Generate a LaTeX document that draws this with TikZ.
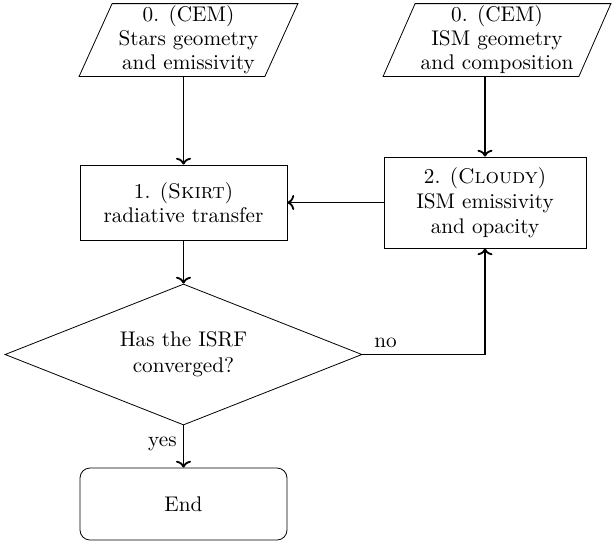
\documentclass[tikz,border=0pt]{standalone}
\usetikzlibrary{shapes.geometric,calc,arrows.meta}
\begin{document}
\begin{tikzpicture}[x=0.5pt,y=-0.5pt,
  font=\fontsize{10.6}{12}\selectfont,
  txt/.style={align=center,inner sep=0pt},
  procbox/.style={draw,line width=0.4pt,align=center,inner sep=0pt},
  endbox/.style={draw,rounded corners=5pt,align=center,inner sep=0pt,line width=0.4pt},
  conn/.style={line width=0.9pt,-{To[length=3.4pt,width=7.5pt]}},
  lab/.style={inner sep=0pt}]
\useasboundingbox (0,0) rectangle (616,543);
% parallelograms
\node[txt,minimum width=92.5pt,minimum height=36pt] (p1) at (188.5,40) {0. (CEM)\\Stars geometry\\and emissivity};
\draw[line width=0.4pt] ([xshift=8.25pt]p1.north west) -- ([xshift=8.25pt]p1.north east) -- ([xshift=-8.25pt]p1.south east) -- ([xshift=-8.25pt]p1.south west) -- cycle;
\node[txt,minimum width=97.5pt,minimum height=36pt] (p2) at (497,40) {0. (CEM)\\ISM geometry\\and composition};
\draw[line width=0.4pt] ([xshift=8pt]p2.north west) -- ([xshift=8pt]p2.north east) -- ([xshift=-8pt]p2.south east) -- ([xshift=-8pt]p2.south west) -- cycle;
% process boxes
\node[procbox,minimum width=103.5pt,minimum height=37.5pt] (b1) at (183.5,202.5) {1. (\textsc{Skirt})\\radiative transfer};
\node[procbox,minimum width=101pt,minimum height=45.5pt,font=\fontsize{10.6}{12.5}\selectfont] (b2) at (485,202.5) {2. (\textsc{Cloudy})\\ISM emissivity\\and opacity};
% decision
\node[draw,diamond,line width=0.4pt,inner sep=0pt,minimum width=178.5pt,minimum height=70.5pt] (d) at (183.5,354.5) {};
\node[txt,font=\fontsize{10.6}{13}\selectfont] (dt) at (d.center) {Has the ISRF\\converged?};
% end
\node[endbox,minimum width=103.5pt,minimum height=36pt] (e) at (183.5,504) {End};
% connectors
\draw[conn] (p1.south -| b1.north) -- (b1.north);
\draw[conn] (p2.south -| b2.north) -- (b2.north);
\draw[conn] (b2.west) -- (b1.east);
\draw[conn] (b1.south) -- (d.north);
\draw[conn] (d.east) -| node[lab,pos=0,anchor=south west,xshift=5.5pt,yshift=3pt] {no} (b2.south);
\draw[conn] (d.south) -- node[lab,left,pos=0.45,xshift=-3pt] {yes} (e.north);
\end{tikzpicture}
\end{document}
